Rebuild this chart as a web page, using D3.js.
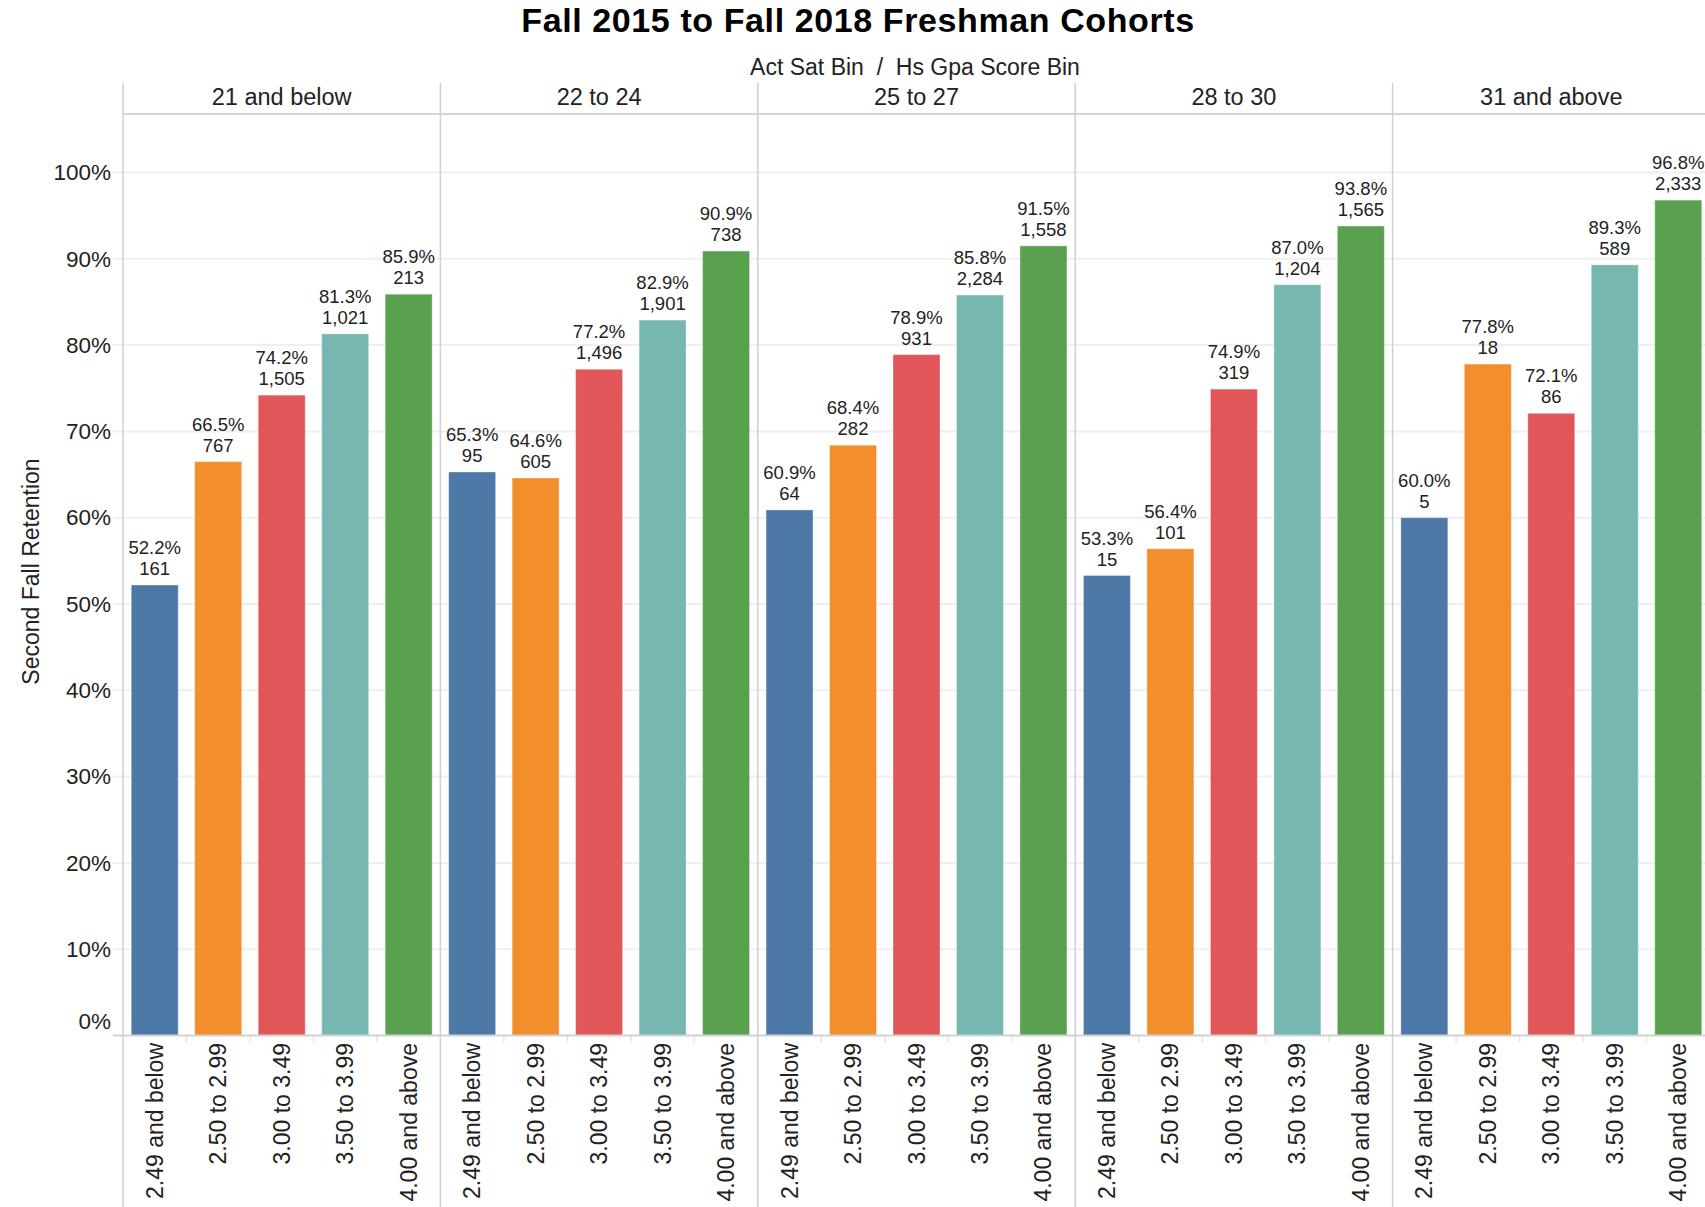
<!DOCTYPE html>
<html>
<head>
<meta charset="utf-8">
<script src="https://cdn.jsdelivr.net/npm/d3@7"></script>
<style>
  body{margin:0;background:#fff;}
  svg text{font-family:"Liberation Sans",Arial,sans-serif;}
</style>
</head>
<body>
<svg id="canvas" width="1705" height="1207"></svg>
<script>
// data
const actBins = ["21 and below", "22 to 24", "25 to 27", "28 to 30", "31 and above"];
const gpaBins = ["2.49 and below", "2.50 to 2.99", "3.00 to 3.49", "3.50 to 3.99", "4.00 and above"];
// retention % per act bin, in gpa bin order
const retention = [
  [52.2, 66.5, 74.2, 81.3, 85.9],
  [65.3, 64.6, 77.2, 82.9, 90.9],
  [60.9, 68.4, 78.9, 85.8, 91.5],
  [53.3, 56.4, 74.9, 87.0, 93.8],
  [60.0, 77.8, 72.1, 89.3, 96.8]
];
// cohort counts per act bin
const counts = [
  [161, 767, 1505, 1021, 213],
  [95, 605, 1496, 1901, 738],
  [64, 282, 931, 2284, 1558],
  [15, 101, 319, 1204, 1565],
  [5, 18, 86, 589, 2333]
];
const yTicks = [0, 10, 20, 30, 40, 50, 60, 70, 80, 90, 100];
const gpaColors = ["#4e79a7", "#f28e2b", "#e15759", "#76b7b2", "#59a14f"];

const W = 1705, H = 1207;
const left = 123, paneW = 317.4;
const headerTop = 83, paneTop = 114, baseY = 1035.5, y100 = 172.5;

let svg = d3.select("#canvas");

let xPane = d3.scaleBand().domain(actBins).range([left, left + paneW * actBins.length]);
let xBar = d3.scaleBand().domain(gpaBins).range([0, paneW]).paddingInner(0.26).paddingOuter(0.13);
let y = d3.scaleLinear().domain([0, 100]).range([baseY, y100]);
let color = d3.scaleOrdinal().domain(gpaBins).range(gpaColors);

let rows = [];
actBins.forEach((a, i) => {
  gpaBins.forEach((g, j) => {
    rows.push({act: a, gpa: g, pct: retention[i][j], n: counts[i][j]});
  });
});

// title
svg.append("text")
  .attr("x", 858).attr("y", 32)
  .attr("text-anchor", "middle")
  .style("font-size", "34px").style("font-weight", "bold")
  .style("letter-spacing", "0.6px")
  .attr("fill", "#000")
  .text("Fall 2015 to Fall 2018 Freshman Cohorts");

svg.append("text")
  .attr("x", 915).attr("y", 75)
  .attr("text-anchor", "middle")
  .style("font-size", "23px").style("white-space", "pre")
  .attr("fill", "#222")
  .text("Act Sat Bin \u00a0/\u00a0 Hs Gpa Score Bin");

// gridlines
svg.append("g").selectAll("line")
  .data(yTicks.filter(t => t > 0))
  .enter().append("line")
  .attr("x1", 113).attr("x2", W)
  .attr("y1", t => y(t)).attr("y2", t => y(t))
  .attr("stroke", "#efefef").attr("stroke-width", 2);

// pane headers
svg.append("g").selectAll("text")
  .data(actBins)
  .enter().append("text")
  .attr("x", d => xPane(d) + paneW / 2)
  .attr("y", 105)
  .attr("text-anchor", "middle")
  .style("font-size", "23.5px")
  .attr("fill", "#222")
  .text(d => d);

// bars
let panes = svg.append("g").selectAll("g")
  .data(actBins)
  .enter().append("g")
  .attr("transform", d => "translate(" + xPane(d) + ",0)");

let bars = panes.selectAll("g.bar")
  .data(a => rows.filter(r => r.act === a))
  .enter().append("g").attr("class", "bar");

bars.append("rect")
  .attr("x", d => xBar(d.gpa))
  .attr("width", xBar.bandwidth())
  .attr("y", d => y(d.pct))
  .attr("height", d => baseY - y(d.pct))
  .attr("fill", d => color(d.gpa))
  .attr("stroke", "#ffffff").attr("stroke-opacity", 0.35).attr("stroke-width", 1);

bars.append("text")
  .attr("x", d => xBar(d.gpa) + xBar.bandwidth() / 2)
  .attr("y", d => y(d.pct) - 31)
  .attr("text-anchor", "middle")
  .style("font-size", "18.5px")
  .attr("fill", "#222")
  .text(d => d.pct.toFixed(1) + "%");

bars.append("text")
  .attr("x", d => xBar(d.gpa) + xBar.bandwidth() / 2)
  .attr("y", d => y(d.pct) - 10)
  .attr("text-anchor", "middle")
  .style("font-size", "18.5px")
  .attr("fill", "#222")
  .text(d => d3.format(",")(d.n));

// small separators under the baseline
panes.selectAll("line.sep")
  .data(gpaBins.slice(1))
  .enter().append("line")
  .attr("x1", g => xBar(g) - xBar.step() * 0.13)
  .attr("x2", g => xBar(g) - xBar.step() * 0.13)
  .attr("y1", baseY).attr("y2", baseY + 7)
  .attr("stroke", "#e4e4e4").attr("stroke-width", 1.5);

// x labels, rotated
panes.selectAll("text.xl")
  .data(gpaBins)
  .enter().append("text")
  .attr("transform", g => "translate(" + (xBar(g) + xBar.bandwidth() / 2 + 8) + ",1043) rotate(-90)")
  .attr("text-anchor", "end")
  .style("font-size", "23px")
  .attr("fill", "#222")
  .text(g => g);

// baseline
svg.append("line")
  .attr("x1", 113).attr("x2", W)
  .attr("y1", baseY).attr("y2", baseY)
  .attr("stroke", "#d2d2d2").attr("stroke-width", 2);

// header bottom line
svg.append("line")
  .attr("x1", left).attr("x2", W)
  .attr("y1", paneTop).attr("y2", paneTop)
  .attr("stroke", "#d4d4d4").attr("stroke-width", 2);

// pane dividers
svg.append("g").selectAll("line")
  .data(actBins)
  .enter().append("line")
  .attr("x1", d => xPane(d)).attr("x2", d => xPane(d))
  .attr("y1", headerTop).attr("y2", H)
  .attr("stroke", "#d0d0d0").attr("stroke-width", 1.5);

// y axis
let yAxis = d3.axisLeft(y)
  .tickValues(yTicks)
  .tickFormat(t => t + "%")
  .tickSize(0)
  .tickPadding(12);
let gy = svg.append("g").attr("transform", "translate(" + left + ",0)").call(yAxis);
gy.select(".domain").remove();
gy.selectAll("text")
  .style("font-size", "22.5px")
  .style("font-family", "'Liberation Sans',Arial,sans-serif")
  .attr("fill", "#222");
// the 0% label sits just above the baseline, inside the pane
gy.selectAll(".tick").filter(t => t === 0).select("text").attr("dy", "-0.3em");

svg.append("text")
  .attr("transform", "translate(39,571.5) rotate(-90)")
  .attr("text-anchor", "middle")
  .style("font-size", "23px")
  .attr("fill", "#222")
  .text("Second Fall Retention");
</script>
</body>
</html>
